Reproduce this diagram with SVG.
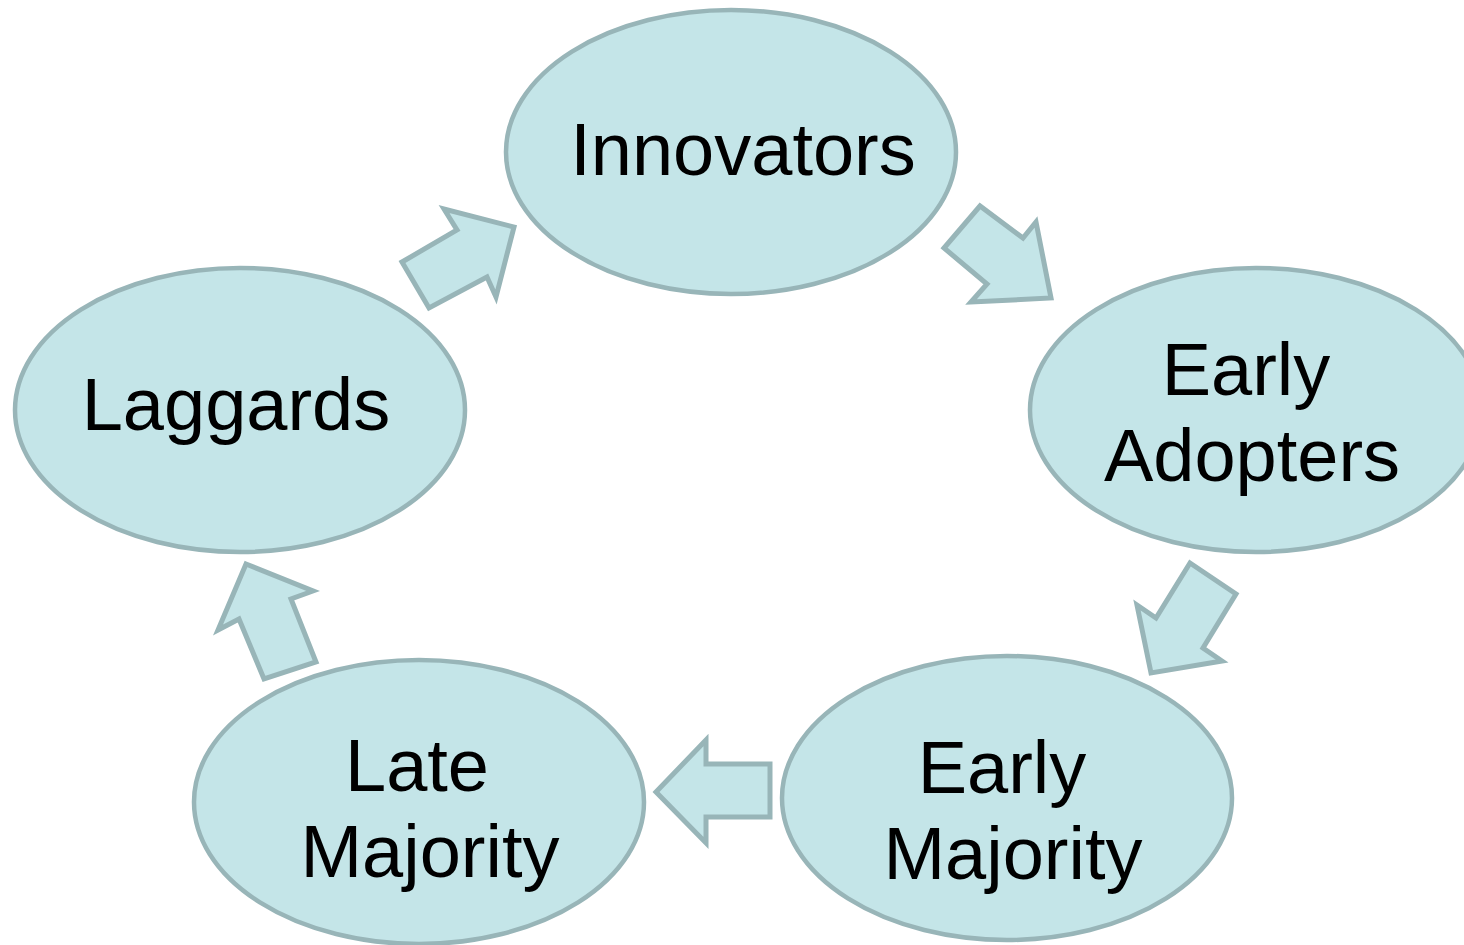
<svg xmlns="http://www.w3.org/2000/svg" width="1464" height="945" viewBox="0 0 1464 945">
  <style>
    .node { fill: #C4E5E8; stroke: #98B5B8; stroke-width: 4.5; }
    .arrow { fill: #C4E5E8; stroke: #98B5B8; stroke-width: 5; stroke-linejoin: miter; }
    .label { font-family: "Liberation Sans", Arial, sans-serif; font-size: 74px; fill: #000; text-anchor: middle; }
  </style>
  <rect width="1464" height="945" fill="#FFFFFF"/>

  <g id="connectors">
    <!-- Laggards -> Innovators -->
    <polygon class="arrow" points="402,262 429,308 487,277 496,297 514,227 444,209 457,230"/>
    <!-- Innovators -> Early Adopters -->
    <polygon class="arrow" points="980,206 944,248 987,284 971,302 1051,298 1036,222 1023,238"/>
    <!-- Early Adopters -> Early Majority -->
    <polygon class="arrow" points="1190,563 1236,594 1203,648 1222,661 1151,673 1137,605 1156,618"/>
    <!-- Early Majority -> Late Majority -->
    <polygon class="arrow" points="656,792 706,740 706,764 770,764 770,817 706,817 706,843"/>
    <!-- Late Majority -> Laggards -->
    <polygon class="arrow" points="246,564 313,591 291,599 316,662 264,679 239,619 218,630"/>
  </g>

  <g id="node-innovators">
    <ellipse class="node" cx="731" cy="152" rx="225" ry="142"/>
    <text class="label" x="743" y="175">Innovators</text>
  </g>

  <g id="node-early-adopters">
    <ellipse class="node" cx="1256" cy="410" rx="226" ry="142"/>
    <text class="label" x="1246" y="395">Early</text>
    <text class="label" x="1252" y="481">Adopters</text>
  </g>

  <g id="node-early-majority">
    <ellipse class="node" cx="1007" cy="798" rx="225" ry="142"/>
    <text class="label" x="1002" y="793">Early</text>
    <text class="label" x="1013" y="879">Majority</text>
  </g>

  <g id="node-late-majority">
    <ellipse class="node" cx="419" cy="802" rx="225" ry="142"/>
    <text class="label" x="417" y="791">Late</text>
    <text class="label" x="430" y="877">Majority</text>
  </g>

  <g id="node-laggards">
    <ellipse class="node" cx="240" cy="410" rx="225" ry="142"/>
    <text class="label" x="236" y="430">Laggards</text>
  </g>
</svg>
